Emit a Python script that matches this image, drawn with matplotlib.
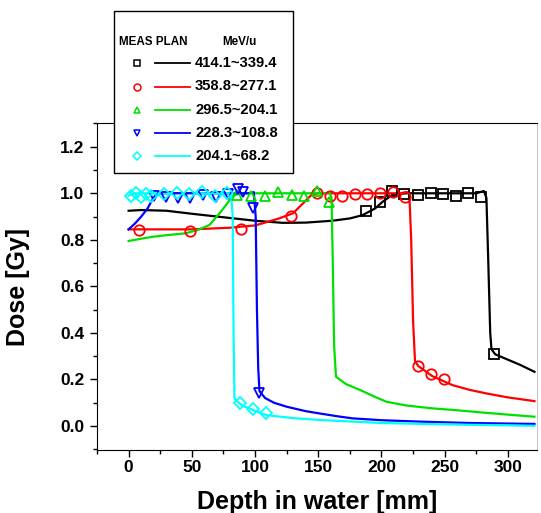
import numpy as np
import matplotlib
matplotlib.use("Agg")
import matplotlib.pyplot as plt
from matplotlib.lines import Line2D
from matplotlib.patches import Rectangle

plt.rcParams["font.family"] = ["Liberation Sans", "DejaVu Sans"]
plt.rcParams["font.weight"] = "bold"

# legend labels (energy ranges, MeV/u)
labels = ["414.1~339.4", "358.8~277.1", "296.5~204.1", "228.3~108.8", "204.1~68.2"]
colors = ["black", "red", "#00e000", "blue", "cyan"]
markers = ["s", "o", "^", "v", "D"]

# planned dose curves (lines)
plan_black_x = [0, 10, 30, 50, 70, 100, 122, 140, 161, 175, 185, 195, 201, 209, 220,
                240, 260, 275, 281, 283, 284.5, 286, 287, 290, 300, 310, 321]
plan_black_y = [0.925, 0.928, 0.925, 0.912, 0.9, 0.882, 0.873, 0.874, 0.882, 0.892, 0.906,
                0.935, 0.964, 0.995, 1.0, 1.0, 1.0, 1.0, 1.01, 0.98, 0.7, 0.4, 0.33, 0.308,
                0.285, 0.262, 0.233]

plan_red_x = [0, 20, 50, 80, 100, 106, 119, 130, 138, 145, 150, 160, 180, 200, 215, 220,
              222, 223.5, 225, 226.5, 229, 240, 256, 270, 283, 300, 321]
plan_red_y = [0.845, 0.845, 0.845, 0.852, 0.862, 0.871, 0.892, 0.914, 0.957, 0.995, 1.0,
              1.0, 1.0, 1.0, 1.0, 1.005, 1.0, 0.8, 0.45, 0.28, 0.258, 0.215, 0.176, 0.155,
              0.14, 0.123, 0.107]

plan_green_x = [0, 10, 19, 30, 45, 55, 64, 73, 80, 83, 88, 100, 120, 140, 155, 159, 160.5,
                161.5, 162.5, 164, 172, 183, 195, 204, 220, 240, 257, 280, 300, 321]
plan_green_y = [0.795, 0.805, 0.813, 0.82, 0.828, 0.843, 0.864, 0.921, 0.971, 0.99, 1.0,
                1.0, 1.0, 1.0, 1.0, 1.005, 0.98, 0.7, 0.35, 0.212, 0.18, 0.155, 0.125, 0.104,
                0.088, 0.076, 0.069, 0.058, 0.049, 0.04]

plan_blue_x = [0, 5, 10, 15, 18, 21, 25, 30, 40, 60, 80, 95, 99, 100.5, 101.5, 102.5, 103.5,
               108, 115, 125, 140, 151, 165, 177, 200, 230, 270, 321]
plan_blue_y = [0.845, 0.87, 0.9, 0.935, 0.965, 0.99, 1.0, 1.0, 1.0, 1.0, 1.0, 1.0, 1.005,
               0.9, 0.5, 0.25, 0.15, 0.12, 0.1, 0.083, 0.064, 0.054, 0.042, 0.033, 0.025,
               0.019, 0.013, 0.009]

plan_cyan_x = [0, 5, 10, 20, 40, 60, 78, 81, 82.3, 83, 83.7, 86, 90, 100, 109, 130, 151,
               200, 250, 321]
plan_cyan_y = [0.99, 1.0, 1.0, 1.0, 1.0, 1.0, 1.0, 1.0, 0.9, 0.4, 0.119, 0.105, 0.088,
               0.065, 0.047, 0.034, 0.026, 0.013, 0.007, 0.001]

# measured points (markers)
meas_black_x = [188, 199, 208.5, 218, 229, 239, 249, 259, 268.5, 279, 289]
meas_black_y = [0.925, 0.961, 1.011, 0.997, 0.992, 1.0, 0.997, 0.989, 1.0, 0.985, 0.308]

meas_red_x = [8.5, 48.6, 89, 128.5, 148.8, 158.9, 168.9, 178.7, 188.7, 199, 209, 218.8,
              228.8, 238.9, 249.1]
meas_red_y = [0.842, 0.838, 0.846, 0.904, 1.0, 0.988, 0.988, 0.995, 0.995, 1.0, 1.007,
              0.985, 0.258, 0.223, 0.2]

meas_green_x = [86, 97, 108, 118.5, 129, 138.5, 148.8, 158.3]
meas_green_y = [0.992, 0.99, 0.99, 1.007, 0.992, 0.99, 1.011, 0.964]

meas_blue_x = [20, 29.6, 38.8, 48.8, 58.6, 69.2, 79, 86.3, 90.3, 98.2, 103.5]
meas_blue_y = [0.99, 0.985, 0.978, 0.978, 0.992, 0.985, 0.995, 1.018, 1.007, 0.935, 0.143]

meas_cyan_x = [2, 6, 10, 14, 18, 28, 38, 48, 58, 68, 78, 88.2, 98.2, 108.8]
meas_cyan_y = [0.99, 1.0, 0.985, 0.995, 0.99, 0.995, 1.0, 0.995, 1.005, 0.99, 1.0,
               0.1, 0.072, 0.055]

plan = [(plan_black_x, plan_black_y), (plan_red_x, plan_red_y), (plan_green_x, plan_green_y),
        (plan_blue_x, plan_blue_y), (plan_cyan_x, plan_cyan_y)]
meas = [(meas_black_x, meas_black_y), (meas_red_x, meas_red_y), (meas_green_x, meas_green_y),
        (meas_blue_x, meas_blue_y), (meas_cyan_x, meas_cyan_y)]

W, H = 541, 513
fig = plt.figure(figsize=(W / 100, H / 100), dpi=100)
ax = fig.add_axes([97 / W, 1 - 450 / H, (537 - 97) / W, (450 - 123) / H])

for (px, py), (mx, my), c, m in zip(plan, meas, colors, markers):
    ax.plot(px, py, color=c, lw=1.6, zorder=2)
    ms = 7.5 if m != "D" else 6.5
    ax.plot(mx, my, ls="none", marker=m, ms=ms, mfc="none", mec=c, mew=1.3, zorder=3)

ax.set_xlim(-25, 323)
ax.set_ylim(-0.103, 1.302)
ax.set_xticks([0, 50, 100, 150, 200, 250, 300])
ax.set_xticks(np.arange(-25, 325, 25), minor=True)
ax.set_yticks([0.0, 0.2, 0.4, 0.6, 0.8, 1.0, 1.2])
ax.set_yticks(np.arange(-0.1, 1.31, 0.1), minor=True)
ax.yaxis.set_major_formatter(matplotlib.ticker.FormatStrFormatter("%.1f"))
ax.tick_params(which="major", length=5, width=1, labelsize=12.5, direction="out")
ax.tick_params(axis="x", pad=2)
ax.tick_params(axis="y", pad=4)
ax.tick_params(which="minor", length=3, width=1, direction="out")
ax.tick_params(top=False, right=False)
for lab in ax.get_xticklabels() + ax.get_yticklabels():
    lab.set_fontweight("bold")
ax.spines["right"].set_color("#c8c8c8")
ax.set_xlabel("Depth in water [mm]", fontsize=18, fontweight="bold", labelpad=11)
ax.set_ylabel("Dose [Gy]", fontsize=18, fontweight="bold", labelpad=22)


# custom legend box (pixel coords -> figure coords)
def fx(p):
    return p / W


def fy(p):
    return 1 - p / H


box = Rectangle((fx(114), fy(173)), fx(293) - fx(114), fy(11) - fy(173),
                transform=fig.transFigure, facecolor="white", edgecolor="black",
                lw=1.0, zorder=10)
fig.add_artist(box)
fig.text(fx(119), fy(42), "MEAS PLAN", fontsize=8.4, fontweight="bold",
         va="center", ha="left", zorder=11)
fig.text(fx(239), fy(42), "MeV/u", fontsize=8.4, fontweight="bold",
         va="center", ha="center", zorder=11)
row_y = [63, 86.5, 110, 133, 156]
for lab, c, m, ry in zip(labels, colors, markers, row_y):
    fig.add_artist(Line2D([fx(137)], [fy(ry)], transform=fig.transFigure, ls="none",
                          marker=m, ms=5 if m != "D" else 4.5, mfc="none", mec=c,
                          mew=1.1, zorder=11))
    fig.add_artist(Line2D([fx(155), fx(190)], [fy(ry), fy(ry)], transform=fig.transFigure,
                          color=c, lw=1.3, zorder=11))
    fig.text(fx(195), fy(ry), lab, fontsize=10.6, fontweight="bold", va="center",
             ha="left", zorder=11)

fig.savefig("out.png", dpi=100)
